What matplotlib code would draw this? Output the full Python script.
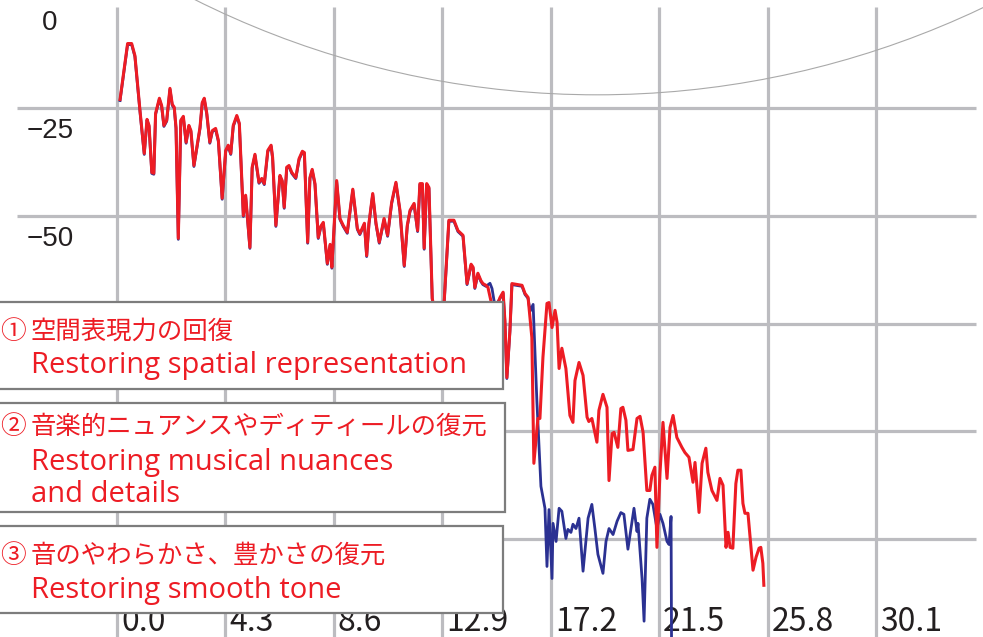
import matplotlib
matplotlib.use("Agg")
import matplotlib.pyplot as plt
from matplotlib.patches import Rectangle, Ellipse
from matplotlib.transforms import ScaledTranslation, blended_transform_factory

# spectrum shared by both traces (kHz, dB)
common_khz = [0.12, 0.42, 0.58, 0.71, 0.91, 1.08, 1.19, 1.27, 1.38, 1.46, 1.53, 1.68, 1.77, 1.86,
              1.97, 2.10, 2.19, 2.27, 2.34, 2.43, 2.53, 2.63, 2.74, 2.85, 2.93, 3.05, 3.18, 3.29,
              3.38, 3.46, 3.56, 3.68, 3.78, 3.91, 4.02, 4.17, 4.31, 4.41, 4.51, 4.61, 4.75, 4.85,
              5.01, 5.10, 5.27, 5.36, 5.47, 5.63, 5.74, 5.84, 5.98, 6.11, 6.17, 6.30, 6.46, 6.55,
              6.63, 6.73, 6.82, 6.93, 7.09, 7.22, 7.35, 7.43, 7.56, 7.65, 7.74, 7.85, 7.98, 8.08,
              8.18, 8.34, 8.45, 8.52, 8.71, 8.84, 8.97, 9.13, 9.35, 9.53, 9.63, 9.81, 9.90, 9.99,
              10.14, 10.27, 10.40, 10.59, 10.73, 10.89, 11.06, 11.22, 11.39, 11.51, 11.62, 11.78,
              11.92, 12.01, 12.11, 12.18, 12.28, 12.37, 12.50, 12.73, 12.93, 13.16, 13.36, 13.52,
              13.72, 13.88, 14.04, 14.12, 14.19, 14.31, 14.43, 14.51, 14.63]
common_db = [-23.0, -10.0, -10.0, -12.8, -25.5, -35.5, -27.6, -29.0, -39.9, -40.1, -26.2, -22.7,
             -24.4, -29.0, -27.8, -20.4, -24.1, -24.8, -29.5, -55.2, -27.8, -26.9, -32.9, -29.0,
             -30.2, -38.3, -33.6, -29.5, -23.7, -22.7, -26.2, -32.9, -30.2, -29.7, -32.5, -45.9,
             -34.8, -33.6, -35.5, -29.0, -26.7, -28.5, -49.9, -45.2, -57.3, -38.7, -35.7, -42.2,
             -41.3, -42.5, -34.8, -33.6, -36.4, -52.2, -40.6, -41.8, -48.0, -38.7, -38.3, -39.9,
             -41.1, -36.7, -35.0, -35.3, -56.1, -41.1, -39.2, -42.5, -55.0, -52.4, -51.5, -61.0,
             -56.6, -61.9, -41.8, -50.6, -52.2, -53.8, -43.8, -52.9, -54.1, -51.7, -59.2, -51.7,
             -44.8, -51.7, -56.1, -50.6, -54.5, -46.9, -42.2, -48.7, -61.5, -52.2, -48.7, -47.1,
             -53.4, -42.5, -42.5, -57.5, -42.5, -43.4, -69.1, -76.6, -74.2, -51.0, -51.0, -53.4,
             -54.5, -65.7, -61.2, -61.9, -66.6, -63.3, -65.0, -65.7, -66.1]

# restored (red) high band
red_khz = [14.71, 14.91, 15.07, 15.19, 15.31, 15.38, 15.46, 15.58, 15.66, 16.06, 16.18, 16.30,
           16.45, 16.53, 16.69, 16.77, 16.89, 17.05, 17.13, 17.25, 17.37, 17.45, 17.53, 17.64,
           17.80, 17.96, 18.08, 18.16, 18.32, 18.48, 18.64, 18.71, 18.83, 19.03, 19.11, 19.27,
           19.43, 19.51, 19.63, 19.71, 19.86, 19.98, 20.06, 20.18, 20.26, 20.46, 20.62, 20.74,
           20.86, 21.01, 21.13, 21.21, 21.33, 21.41, 21.53, 21.65, 21.81, 21.93, 22.05, 22.20,
           22.40, 22.52, 22.68, 22.84, 22.92, 23.08, 23.20, 23.35, 23.43, 23.59, 23.79, 23.91,
           24.03, 24.15, 24.23, 24.31, 24.42, 24.54, 24.62, 24.74, 24.82, 24.90, 25.02, 25.22,
           25.34, 25.46, 25.53, 25.61, 25.65]
red_db = [-66.6, -71.9, -70.8, -68.9, -67.7, -74.2, -87.5, -76.6, -65.7, -66.1, -68.0, -68.9,
          -78.2, -107.4, -97.0, -97.0, -82.8, -70.3, -70.1, -75.9, -71.9, -74.7, -85.4, -80.7,
          -85.4, -96.3, -97.9, -88.2, -84.0, -87.0, -96.7, -97.7, -97.0, -102.5, -95.1, -91.4,
          -94.4, -111.4, -100.5, -100.2, -103.7, -94.7, -94.4, -97.4, -104.4, -104.2, -97.0,
          -96.5, -100.2, -113.7, -113.7, -110.2, -108.3, -126.9, -109.7, -97.9, -110.9, -99.1,
          -96.3, -101.4, -103.7, -104.9, -106.0, -111.8, -107.2, -118.8, -107.4, -103.9, -109.5,
          -113.7, -116.0, -110.9, -112.5, -126.9, -123.4, -126.9, -127.1, -112.1, -109.0, -109.0,
          -116.7, -119.0, -119.0, -132.2, -129.2, -127.1, -126.9, -130.6, -135.7]

# original (blue) high band
blue_khz = [14.79, 14.87, 14.99, 15.19, 15.31, 15.38, 15.46, 15.58, 15.66, 16.06, 16.18, 16.30,
            16.38, 16.50, 16.65, 16.81, 16.97, 17.05, 17.13, 17.25, 17.29, 17.41, 17.53, 17.64,
            17.80, 17.88, 18.00, 18.08, 18.20, 18.32, 18.48, 18.68, 18.83, 18.95, 19.07, 19.27,
            19.39, 19.51, 19.67, 19.83, 19.98, 20.10, 20.26, 20.38, 20.50, 20.62, 20.66, 20.82,
            20.90, 21.01, 21.13, 21.25, 21.41, 21.53, 21.65, 21.81, 21.89, 21.97, 21.99]
blue_db = [-65.4, -66.6, -70.8, -68.9, -67.7, -74.2, -87.5, -76.6, -65.7, -66.1, -68.0, -68.9,
           -71.9, -70.3, -92.8, -112.5, -117.6, -131.1, -117.9, -133.9, -121.1, -125.3, -117.6,
           -118.3, -124.6, -122.5, -123.2, -121.3, -122.3, -119.9, -132.2, -119.9, -116.7, -122.3,
           -128.3, -132.7, -125.3, -122.3, -123.7, -120.6, -118.6, -119.0, -127.1, -122.3, -117.6,
           -123.0, -121.1, -133.9, -143.8, -119.9, -115.5, -116.7, -122.3, -119.0, -121.1, -125.3,
           -126.0, -119.5, -150.0]

# big faint ring behind the top of the plot (centre and full size in kHz / dB)
ring_center = (19.04, 186.5)
ring_size = (71.22, 416.8)

x_ticks = [0.0, 4.3, 8.6, 12.9, 17.2, 21.5, 25.8, 30.1]
x_labels = ["0.0", "4.3", "8.6", "12.9", "17.2", "21.5", "25.8", "30.1"]
y_ticks = [0, -25, -50]
y_labels = ["0", "\u221225", "\u221250"]
grid_db = [-25, -50, -75, -100, -125]

legend_nums = ["①", "②", "③"]
legend_text = [
    ["空間表現力の回復", "Restoring spatial representation"],
    ["音楽的ニュアンスやディティールの復元", "Restoring musical nuances", "and details"],
    ["音のやわらかさ、豊かさの復元", "Restoring smooth tone"],
]

RED = "#ed1c24"
NAVY = "#2b3192"
GRID = "#bcbcc0"
W, H = 983, 637

fig = plt.figure(figsize=(W / 100, H / 100), dpi=100)
ax = fig.add_axes([0, 0, 1, 1])
ax.set_xlim(-4.64, 34.34)
ax.set_ylim(-147.7, 0.1)
ax.axis("off")

# grid
for v in grid_db:
    ax.axhline(v, xmin=17 / W, xmax=976 / W, color=GRID, lw=2.3, solid_capstyle="butt", zorder=1)
for f in x_ticks:
    ax.axvline(f, ymin=0, ymax=1 - 7 / H, color=GRID, lw=2.3, solid_capstyle="butt", zorder=1)

ax.add_patch(Ellipse(ring_center, ring_size[0], ring_size[1], fill=False,
                     ec="#a9a9a9", lw=0.8, zorder=1.5))

# tick labels
xt = blended_transform_factory(ax.transData, ax.transAxes)
for f, lab in zip(x_ticks, x_labels):
    ax.text(f, (H - 622) / H, lab, transform=xt + ScaledTranslation(4 / 100, 0, fig.dpi_scale_trans),
            ha="left", va="center", fontsize=23, color="#231f20",
            family=["Liberation Sans Narrow", "Noto Sans CJK JP"], zorder=2)
yt = blended_transform_factory(ax.transAxes, ax.transData)
for v, lab in zip(y_ticks, y_labels):
    ax.text(50 / W, v, lab, transform=yt + ScaledTranslation(0, -23 / 100, fig.dpi_scale_trans),
            ha="center", va="center", fontsize=20, color="#231f20",
            family=["Liberation Sans", "DejaVu Sans"], zorder=2)

# traces: original underneath, restored on top
drop = ScaledTranslation(0, -1 / 100, fig.dpi_scale_trans)
ax.plot(common_khz + blue_khz, common_db + blue_db, color=NAVY, lw=2.0,
        transform=ax.transData + drop, zorder=3)
ax.plot(common_khz + red_khz, common_db + red_db, color=RED, lw=2.2, zorder=4)

# labelled boxes on the left
boxes = [(302, 389, 503), (403, 512, 505), (526, 613, 503)]
line_y = [[332, 373], [427, 470, 502], [556, 598]]
for (top, bot, right), num, lines, ys in zip(boxes, legend_nums, legend_text, line_y):
    ax.add_patch(Rectangle((-5 / W, 1 - bot / H), (right + 5) / W, (bot - top) / H,
                           transform=ax.transAxes, fc="white", ec="#7d7d7d", lw=1.6, zorder=5))
    ax.text(0, 1 - ys[0] / H, num, transform=ax.transAxes, ha="left", va="center",
            fontsize=18.5, color=RED, family=["Noto Sans CJK JP"], zorder=6)
    ax.text(31 / W, 1 - ys[0] / H, lines[0], transform=ax.transAxes, ha="left", va="center",
            fontsize=18.3, color=RED, family=["Noto Sans CJK JP"], zorder=6)
    for s, y in zip(lines[1:], ys[1:]):
        ax.text(31 / W, 1 - y / H, s, transform=ax.transAxes, ha="left", va="baseline",
                fontsize=21, color=RED, family=["Open Sans", "Noto Sans CJK JP"], zorder=6)

fig.savefig("out.png", dpi=100)
